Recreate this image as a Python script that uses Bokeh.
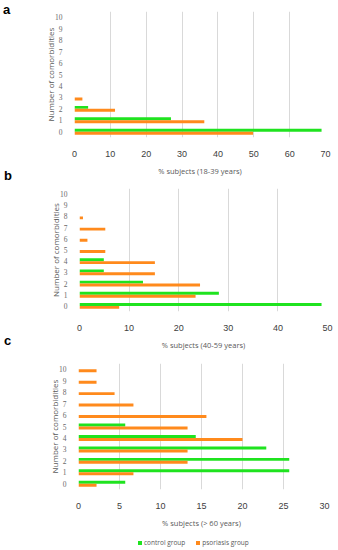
from bokeh.plotting import figure
from bokeh.models import (ColumnDataSource, FixedTicker, SingleIntervalTicker, Legend,
                          LegendItem, Range1d, Div)
from bokeh.transform import dodge
from bokeh.embed import file_html
from bokeh.resources import INLINE

# ---------------- data ----------------
n_comorb = [0, 1, 2, 3, 4, 5, 6, 7, 8, 9, 10]

# panel a: 18-39 years
control_a = [68.9, 26.9, 3.8, 0, 0, 0, 0, 0, 0, 0, 0]
psoriasis_a = [49.8, 36.2, 11.3, 2.2, 0, 0, 0, 0, 0, 0, 0]

# panel b: 40-59 years
control_b = [48.8, 28.1, 12.8, 4.9, 4.9, 0, 0, 0, 0, 0, 0]
psoriasis_b = [8.0, 23.4, 24.3, 15.2, 15.2, 5.2, 1.6, 5.2, 0.7, 0, 0]

# panel c: > 60 years
control_c = [5.7, 25.7, 25.7, 22.9, 14.3, 5.7, 0, 0, 0, 0, 0]
psoriasis_c = [2.2, 6.7, 13.3, 13.3, 20.0, 13.3, 15.6, 6.7, 4.4, 2.2, 2.2]

x_titles = ["% subjects (18-39 years)", "% subjects (40-59 years)", "% subjects (> 60 years)"]
x_max = [70, 50, 30]
x_step = [10, 10, 5]
panel_letters = ["a", "b", "c"]
legend_labels = ["control group", "psoriasis group"]

GREEN = "#1fe31f"
ORANGE = "#ff8a1c"
GRID = "#d9d9d9"
TXT = "#595959"


def make_panel(src, xmax, step, xtitle, height, left, right, top, bottom):
    p = figure(width=338, height=height, output_backend="svg", toolbar_location=None,
               x_range=Range1d(0, xmax), y_range=Range1d(-0.5, 10.5),
               min_border_left=left, min_border_right=right,
               min_border_top=top, min_border_bottom=bottom)
    p.hbar(y=dodge("n", 0.13, range=p.y_range), right="control", left=0, height=0.26,
           source=src, color=GREEN, line_color=None)
    p.hbar(y=dodge("n", -0.13, range=p.y_range), right="psoriasis", left=0, height=0.26,
           source=src, color=ORANGE, line_color=None)
    p.outline_line_color = None
    p.background_fill_color = "white"
    p.border_fill_color = "white"
    p.ygrid.visible = False
    p.xgrid.grid_line_color = GRID
    p.xgrid.ticker = SingleIntervalTicker(interval=step)
    p.xaxis.ticker = SingleIntervalTicker(interval=step)
    p.yaxis.ticker = FixedTicker(ticks=n_comorb)
    for ax in (p.xaxis[0], p.yaxis[0]):
        ax.axis_line_color = None
        ax.major_tick_line_color = None
        ax.minor_tick_line_color = None
    p.xaxis.major_label_text_font = "Liberation Sans"
    p.xaxis.major_label_text_font_size = "9px"
    p.xaxis.major_label_text_color = "#404040"
    p.xaxis.major_label_standoff = 7
    p.xaxis.axis_label = xtitle
    p.xaxis.axis_label_text_font = "Open Sans"
    p.xaxis.axis_label_text_font_style = "normal"
    p.xaxis.axis_label_text_font_size = "7.5px"
    p.xaxis.axis_label_text_color = TXT
    p.xaxis.axis_label_standoff = 6
    p.yaxis.major_label_text_font = "Liberation Serif"
    p.yaxis.major_label_text_font_size = "7.5px"
    p.yaxis.major_label_text_color = "#6a6a6a"
    p.yaxis.major_label_standoff = 6
    p.yaxis.axis_label = "Number of comorbidities"
    p.yaxis.axis_label_text_font = "Open Sans"
    p.yaxis.axis_label_text_font_style = "normal"
    p.yaxis.axis_label_text_font_size = "8px"
    p.yaxis.axis_label_text_color = TXT
    p.yaxis.axis_label_standoff = -4
    return p


src_a = ColumnDataSource(dict(n=n_comorb, control=control_a, psoriasis=psoriasis_a))
src_b = ColumnDataSource(dict(n=n_comorb, control=control_b, psoriasis=psoriasis_b))
src_c = ColumnDataSource(dict(n=n_comorb, control=control_c, psoriasis=psoriasis_c))

pa = make_panel(src_a, x_max[0], x_step[0], x_titles[0], 178, 74, 13, 11, 31)
pb = make_panel(src_b, x_max[1], x_step[1], x_titles[1], 174, 79, 11, 10, 31)
pc = make_panel(src_c, x_max[2], x_step[2], x_titles[2], 178, 78, 14, 11, 39)

# legend strip under panel c (its renderers use panel c's data, kept out of view)
pl = figure(width=338, height=20, output_backend="svg", toolbar_location=None,
            x_range=Range1d(0, 1), y_range=Range1d(100, 101),
            min_border_left=0, min_border_right=0, min_border_top=0, min_border_bottom=0)
pl.axis.visible = False
pl.grid.visible = False
pl.outline_line_color = None
g1 = pl.hbar(y="n", right="control", left=0, height=0.26, source=src_c,
             color=GREEN, line_color=None)
g2 = pl.hbar(y="n", right="psoriasis", left=0, height=0.26, source=src_c,
             color=ORANGE, line_color=None)
lg = Legend(items=[LegendItem(label=legend_labels[0], renderers=[g1]),
                   LegendItem(label=legend_labels[1], renderers=[g2])],
            orientation="horizontal", location=(137, 3),
            glyph_width=5, glyph_height=5, label_height=8, label_width=10,
            label_text_font="Open Sans", label_text_font_size="6.5px",
            label_text_color=TXT, label_standoff=2, spacing=10,
            padding=0, margin=0, border_line_color=None, background_fill_alpha=0)
pl.add_layout(lg, "center")

letter_pos = [(3, 3), (4, 169), (4, 334)]
letters = []
for txt, (lx, ty) in zip(panel_letters, letter_pos):
    letters.append(Div(text=txt, styles={
        "position": "absolute", "left": f"{lx}px", "top": f"{ty}px",
        "font-family": "Liberation Sans", "font-weight": "bold", "font-size": "13px",
        "line-height": "13px", "color": "black", "margin": "0", "padding": "0"}))

open("out.html", "w").write(file_html([pa, pb, pc, pl] + letters, INLINE))
